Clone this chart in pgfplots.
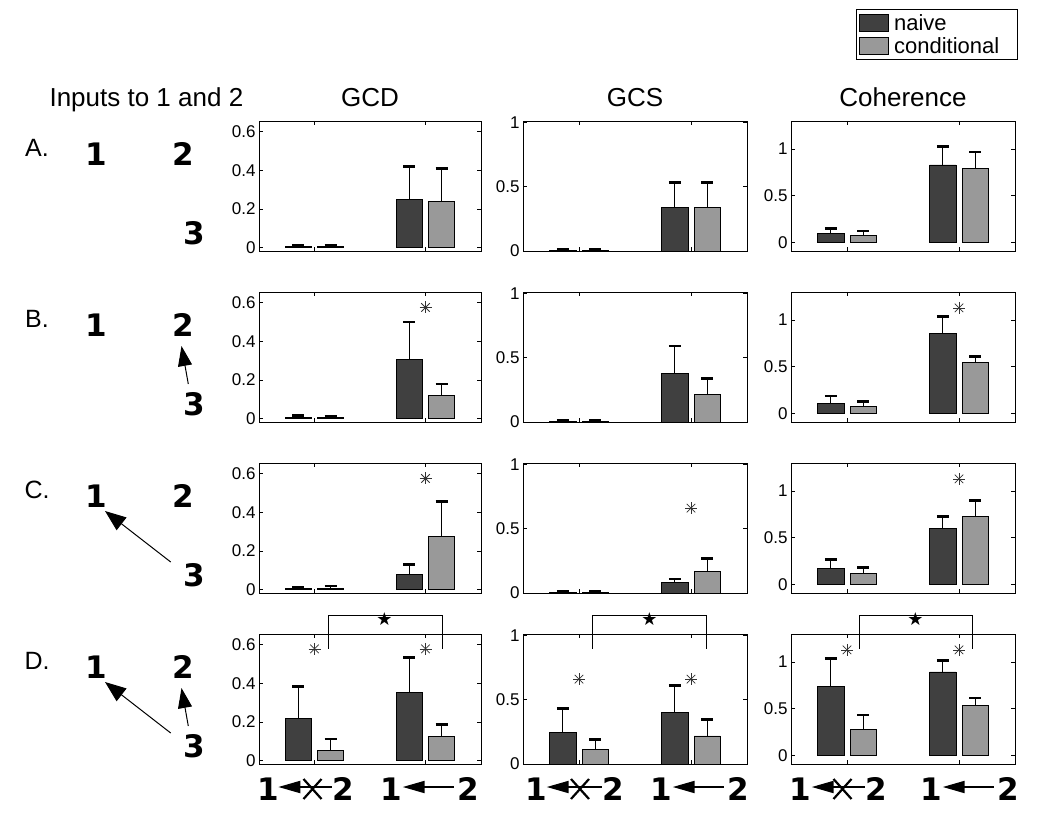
\documentclass[border=0pt]{standalone}
\usepackage{pgfplots}
\pgfplotsset{compat=1.18}
\usepackage{fontspec}
\setmainfont{Liberation Sans}
\newfontfamily\dv{DejaVu Sans}
\usetikzlibrary{arrows.meta}
\definecolor{naive}{RGB}{64,64,64}
\definecolor{cond}{RGB}{153,153,153}
\newcommand\dig{\dv\bfseries\fontsize{31}{31}\selectfont}
\newcommand\ttl{\fontsize{26}{26}\selectfont}
\newcommand\rowl{\fontsize{25}{25}\selectfont}

\pgfplotsset{
  every panel/.style={scale only axis, height=130pt, xmin=0.5, xmax=2.5,
    xtick={1,2}, xticklabels={}, tick align=inside, major tick length=4pt,
    axis line style={line width=0.8pt}, every tick/.style={black, line width=0.8pt},
    /pgf/number format/assume math mode=true,
    yticklabel style={font=\fontsize{17}{17}\selectfont},
    clip=false, anchor=south west},
  gcd/.style={every panel, width=222pt, ymin=-0.017, ymax=0.655,
    ytick={0,0.2,0.4,0.6}, yticklabels={0,0.2,0.4,0.6}},
  gcs/.style={every panel, width=224pt, ymin=0, ymax=1.01,
    ytick={0,0.5,1}, yticklabels={0,0.5,1}},
  coh/.style={every panel, width=224pt, ymin=-0.09, ymax=1.3,
    ytick={0,0.5,1}, yticklabels={0,0.5,1}},
  errs/.style={error bars/.cd, y dir=plus, y explicit,
    error bar style={line width=1.3pt, black},
    error mark options={rotate=90, line width=2.6pt, mark size=6pt, black}},
  nv/.style={ybar, bar width=0.235, bar shift=0, fill=naive, draw=black, line width=0.8pt, errs},
  cd/.style={ybar, bar width=0.235, bar shift=0, fill=cond, draw=black, line width=0.8pt, errs},
  sig/.style={only marks, mark=+, mark size=6pt, line width=0.75pt, black!80, forget plot},
  sigx/.style={only marks, mark=x, mark size=6pt, line width=0.75pt, black!80, forget plot},
}

\begin{document}
\begin{tikzpicture}
\path (0pt,0pt) rectangle (1050pt,-829pt);

% bar centres: naive at group-0.145, conditional at group+0.145
% ---------------- Row A ----------------
\begin{axis}[gcd, at={(259pt,-251pt)}]
\addplot[nv] coordinates {(0.855,0.005) +- (0,0.010) (1.855,0.25) +- (0,0.17)};
\addplot[cd] coordinates {(1.145,0.005) +- (0,0.010) (2.145,0.24) +- (0,0.17)};
\end{axis}
\begin{axis}[gcs, at={(523pt,-251pt)}]
\addplot[nv] coordinates {(0.855,0.004) +- (0,0.006) (1.855,0.34) +- (0,0.19)};
\addplot[cd] coordinates {(1.145,0.004) +- (0,0.006) (2.145,0.34) +- (0,0.19)};
\end{axis}
\begin{axis}[coh, at={(791pt,-251pt)},
  legend style={at={(0.29,1.859)}, anchor=north west, draw=black, line width=0.7pt,
    font=\fontsize{22}{22}\selectfont, inner xsep=3pt, inner ysep=3pt, row sep=3pt,
    nodes={inner ysep=1.5pt, inner xsep=5pt}},
  legend cell align=left]
\addplot[nv, /pgfplots/legend image code/.code={\draw[fill=naive, draw=black, line width=0.8pt] (0pt,-8.5pt) rectangle (29pt,8.5pt);}]
  coordinates {(0.855,0.093) +- (0,0.055) (1.855,0.83) +- (0,0.195)};
\addlegendentry{naive}
\addplot[cd, /pgfplots/legend image code/.code={\draw[fill=cond, draw=black, line width=0.8pt] (0pt,-8.5pt) rectangle (29pt,8.5pt);}]
  coordinates {(1.145,0.08) +- (0,0.045) (2.145,0.79) +- (0,0.18)};
\addlegendentry{conditional\hspace*{10pt}}
\end{axis}

% ---------------- Row B ----------------
\begin{axis}[gcd, at={(259pt,-422pt)}]
\addplot[nv] coordinates {(0.855,0.005) +- (0,0.013) (1.855,0.305) +- (0,0.195)};
\addplot[cd] coordinates {(1.145,0.005) +- (0,0.008) (2.145,0.12) +- (0,0.06)};
\addplot[sig] coordinates {(2,0.575)};
\addplot[sigx] coordinates {(2,0.575)};
\end{axis}
\begin{axis}[gcs, at={(523pt,-422pt)}]
\addplot[nv] coordinates {(0.855,0.004) +- (0,0.006) (1.855,0.376) +- (0,0.214)};
\addplot[cd] coordinates {(1.145,0.004) +- (0,0.006) (2.145,0.216) +- (0,0.12)};
\end{axis}
\begin{axis}[coh, at={(791pt,-422pt)}]
\addplot[nv] coordinates {(0.855,0.107) +- (0,0.083) (1.855,0.857) +- (0,0.183)};
\addplot[cd] coordinates {(1.145,0.078) +- (0,0.052) (2.145,0.55) +- (0,0.06)};
\addplot[sig] coordinates {(2,1.13)};
\addplot[sigx] coordinates {(2,1.13)};
\end{axis}

% ---------------- Row C ----------------
\begin{axis}[gcd, at={(259pt,-593pt)}]
\addplot[nv] coordinates {(0.855,0.005) +- (0,0.010) (1.855,0.08) +- (0,0.05)};
\addplot[cd] coordinates {(1.145,0.005) +- (0,0.015) (2.145,0.276) +- (0,0.18)};
\addplot[sig] coordinates {(2,0.575)};
\addplot[sigx] coordinates {(2,0.575)};
\end{axis}
\begin{axis}[gcs, at={(523pt,-593pt)}]
\addplot[nv] coordinates {(0.855,0.004) +- (0,0.006) (1.855,0.079) +- (0,0.031)};
\addplot[cd] coordinates {(1.145,0.004) +- (0,0.006) (2.145,0.166) +- (0,0.104)};
\addplot[sig] coordinates {(2,0.66)};
\addplot[sigx] coordinates {(2,0.66)};
\end{axis}
\begin{axis}[coh, at={(791pt,-593pt)}]
\addplot[nv] coordinates {(0.855,0.168) +- (0,0.10) (1.855,0.60) +- (0,0.13)};
\addplot[cd] coordinates {(1.145,0.118) +- (0,0.062) (2.145,0.73) +- (0,0.17)};
\addplot[sig] coordinates {(2,1.13)};
\addplot[sigx] coordinates {(2,1.13)};
\end{axis}

% ---------------- Row D ----------------
\begin{axis}[gcd, at={(259pt,-764pt)}]
\addplot[nv] coordinates {(0.855,0.217) +- (0,0.166) (1.855,0.352) +- (0,0.182)};
\addplot[cd] coordinates {(1.145,0.052) +- (0,0.061) (2.145,0.127) +- (0,0.061)};
\addplot[sig] coordinates {(1,0.578) (2,0.578)};
\addplot[sigx] coordinates {(1,0.578) (2,0.578)};
\draw[line width=0.8pt] (rel axis cs:0.312,0.885) -- (rel axis cs:0.312,1.141) -- (rel axis cs:0.826,1.141) -- (rel axis cs:0.826,0.885);
\node[font=\dv\fontsize{18}{18}\selectfont] at (rel axis cs:0.565,1.118) {★};
\end{axis}
\begin{axis}[gcs, at={(523pt,-764pt)}]
\addplot[nv] coordinates {(0.855,0.248) +- (0,0.182) (1.855,0.40) +- (0,0.21)};
\addplot[cd] coordinates {(1.145,0.11) +- (0,0.08) (2.145,0.218) +- (0,0.128)};
\addplot[sig] coordinates {(1,0.66) (2,0.66)};
\addplot[sigx] coordinates {(1,0.66) (2,0.66)};
\draw[line width=0.8pt] (rel axis cs:0.309,0.885) -- (rel axis cs:0.309,1.141) -- (rel axis cs:0.82,1.141) -- (rel axis cs:0.82,0.885);
\node[font=\dv\fontsize{18}{18}\selectfont] at (rel axis cs:0.564,1.118) {★};
\end{axis}
\begin{axis}[coh, at={(791pt,-764pt)}]
\addplot[nv] coordinates {(0.855,0.74) +- (0,0.296) (1.855,0.894) +- (0,0.121)};
\addplot[cd] coordinates {(1.145,0.284) +- (0,0.152) (2.145,0.532) +- (0,0.082)};
\addplot[sig] coordinates {(1,1.13) (2,1.13)};
\addplot[sigx] coordinates {(1,1.13) (2,1.13)};
\draw[line width=0.8pt] (rel axis cs:0.304,0.885) -- (rel axis cs:0.304,1.141) -- (rel axis cs:0.811,1.141) -- (rel axis cs:0.811,0.885);
\node[font=\dv\fontsize{18}{18}\selectfont] at (rel axis cs:0.555,1.118) {★};
\end{axis}

% ---------------- annotations ----------------
\begin{scope}[x=1pt,y=-1pt]
% titles
\node[font=\ttl, anchor=base west] at (46,107) {Inputs to 1 and 2};
\node[font=\ttl, anchor=base] at (370,107) {GCD};
\node[font=\ttl, anchor=base] at (635,107) {GCS};
\node[font=\ttl, anchor=base] at (903,107) {Coherence};
% row letters and node digits
\foreach \T/\L in {121/A, 292/B, 463/C, 634/D}{
  \node[font=\rowl] at (37,\T+27) {\L.};
  \node[font=\dig] at (96,\T+33) {1};
  \node[font=\dig] at (183,\T+33) {2};
  \node[font=\dig] at (194,\T+112) {3};
}
% arrows 3->2 (B, D)
\foreach \T in {292,634}{
  \draw[line width=1pt, -{Triangle[length=20pt,width=14pt]}] (188.3,\T+92) -- (181.5,\T+54);
}
% arrows 3->1 (C, D)
\foreach \T in {463,634}{
  \draw[line width=1pt, -{Triangle[length=21pt,width=16pt]}] (170.7,\T+99) -- (105,\T+48);
}
% bottom labels
\newcommand\lab[4]{%
  \node[font=\dig] at (#1,789) {1};
  \draw[line width=2pt, {Triangle[length=22pt,width=12pt]}-] (#2,787) -- (#3,787);
  \node[font=\dig] at (#4,789) {2};}
\newcommand\xx[1]{\draw[line width=2.2pt] (#1-9,779) -- (#1+9,799) (#1-9,799) -- (#1+9,779);}
\lab{268.3}{278.3}{332}{343.3}\xx{312.5}
\lab{391.7}{402.7}{454}{468.3}
\lab{536.7}{546.7}{602}{613.3}\xx{580}
\lab{661.7}{672.7}{724}{738.3}
\lab{800.5}{811.7}{865}{876.7}\xx{842.5}
\lab{931.7}{942.7}{994}{1008.3}
\end{scope}
\end{tikzpicture}
\end{document}
